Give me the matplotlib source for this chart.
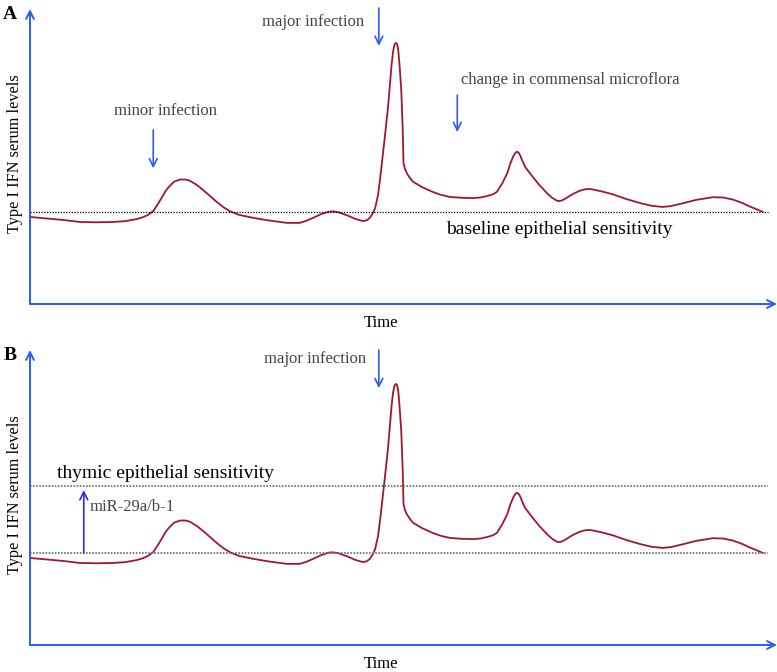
import matplotlib.pyplot as plt

plt.rcParams['font.family'] = ['Liberation Serif', 'DejaVu Serif']

# IFN level curve (time 0-100, level 0-100)
time = [0, 2.2, 4.4, 6.7, 8.9, 11.1, 12.8, 14.3, 15.1, 15.8, 16.5, 17.1, 17.7, 18.2,
        18.7, 19.3, 20.1, 20.8, 21.4, 22.3, 23.2, 24.1, 25.0, 25.9, 26.8, 28.0, 29.9,
        32.0, 34.4, 36.1, 37.0, 37.9, 39.0, 40.0, 40.6, 41.3, 42.5, 43.6, 44.6, 45.1,
        45.5, 45.9, 46.2, 46.6, 46.9, 47.5, 47.9, 48.2, 48.4, 48.6, 48.8, 49.0, 49.15,
        49.3, 49.5, 49.7, 49.9, 50.0, 50.2, 50.5, 50.9, 51.3, 52.5, 53.9, 55.0, 56.2,
        57.8, 59.3, 60.3, 61.2, 62.0, 62.5, 63.2, 63.9, 64.3, 64.7, 65.0, 65.2, 65.4,
        65.6, 65.9, 66.3, 67.3, 68.2, 69.2, 69.9, 70.4, 70.7, 71.1, 71.6, 72.6, 73.6,
        74.3, 75.0, 76.5, 78.0, 79.8, 81.7, 83.2, 84.7, 85.8, 87.0, 89.2, 91.4, 92.8,
        94.1, 95.3, 96.4, 97.3, 98.1]
level = [29.5, 29.0, 28.5, 27.8, 27.7, 27.8, 28.1, 28.8, 29.4, 30.2, 31.5, 33.8, 36.3, 38.5,
         40.0, 41.5, 42.2, 42.2, 41.8, 40.4, 38.6, 36.6, 34.6, 32.8, 31.4, 30.2, 29.2,
         28.3, 27.5, 27.5, 28.2, 29.2, 30.5, 31.3, 31.4, 31.1, 30.0, 28.8, 28.1, 28.4,
         29.2, 30.8, 32.5, 37.0, 43.1, 56.6, 66.0, 74.9, 81.0, 85.5, 88.0, 88.5, 88.0,
         86.1, 80.0, 72.5, 59.0, 47.8, 45.7, 44.1, 42.6, 41.4, 39.6, 38.0, 37.0, 36.3,
         36.0, 35.9, 36.1, 36.6, 37.2, 38.0, 40.8, 44.4, 47.6, 50.1, 51.3, 51.6, 51.3,
         50.5, 48.6, 46.4, 43.1, 40.3, 37.6, 36.0, 35.2, 34.9, 35.0, 35.6, 37.2, 38.4,
         38.9, 39.0, 38.2, 37.2, 35.6, 34.2, 33.3, 32.9, 33.2, 33.9, 35.3, 36.2, 36.1,
         35.4, 34.3, 33.0, 32.1, 31.2]

baseline = 31.2
thymic = 54.0

AXIS_BLUE = '#2a5cf5'
CURVE = '#9c1a2c'
GREY = '#444444'

fig = plt.figure(figsize=(7.77, 6.72), dpi=100)


def draw_panel(ax, letter):
    ax.set_xlim(0, 100)
    ax.set_ylim(0, 100)
    ax.axis('off')
    # axes drawn as open arrows
    ax.annotate('', xy=(100, 0), xytext=(0, 0), annotation_clip=False,
                arrowprops=dict(arrowstyle='->', color=AXIS_BLUE, lw=1.4,
                                mutation_scale=14, shrinkA=0, shrinkB=0))
    ax.annotate('', xy=(0, 100), xytext=(0, 0), annotation_clip=False,
                arrowprops=dict(arrowstyle='->', color=AXIS_BLUE, lw=1.4,
                                mutation_scale=14, shrinkA=0, shrinkB=0))
    ax.plot(time, level, color=CURVE, lw=1.3, solid_joinstyle='round', clip_on=False)
    ax.text(-2.0, 51, 'Type I IFN serum levels', rotation=90, ha='center',
            va='center', fontsize=11.7)
    ax.text(47, -6.4, 'Time', ha='center', va='center', fontsize=12)
    ax.text(-2.7, 98, letter, ha='center', va='center', fontsize=14,
            fontweight='bold')


def down_arrow(ax, x, y0, y1, color=AXIS_BLUE):
    ax.annotate('', xy=(x, y1), xytext=(x, y0), annotation_clip=False,
                arrowprops=dict(arrowstyle='->', color=color, lw=1.2,
                                mutation_scale=14, shrinkA=0, shrinkB=0))


# --- Panel A ---
axA = fig.add_axes([30 / 777, 368 / 672, 747 / 777, 295 / 672])
draw_panel(axA, 'A')
axA.plot([0, 98.8], [baseline, baseline], color='black', lw=0.9, ls=(0, (1, 1.2)))
axA.text(18.1, 65.4, 'minor infection', ha='center', va='center', fontsize=12, color=GREY)
down_arrow(axA, 16.5, 59, 46)
axA.text(37.9, 95.6, 'major infection', ha='center', va='center', fontsize=12, color=GREY)
down_arrow(axA, 46.7, 100.3, 87.5)
axA.text(72.3, 75.9, 'change in commensal microflora', ha='center', va='center',
         fontsize=12, color=GREY)
down_arrow(axA, 57.2, 70.8, 58.3)
axA.text(70.8, 25.1, 'baseline epithelial sensitivity', ha='center', va='center',
         fontsize=14, color='black')

# --- Panel B ---
axB = fig.add_axes([30 / 777, 27 / 672, 747 / 777, 295 / 672])
draw_panel(axB, 'B')
axB.plot([0, 98.8], [baseline, baseline], color='#777777', lw=1.4, ls=(0, (0.8, 0.8)))
axB.plot([0, 98.8], [thymic, thymic], color='#777777', lw=1.4, ls=(0, (0.8, 0.8)))
axB.text(18.1, 58.3, 'thymic epithelial sensitivity', ha='center', va='center',
         fontsize=14, color='black')
axB.text(8.0, 46.8, 'miR-29a/b-1', ha='left', va='center', fontsize=12, color=GREY)
down_arrow(axB, 7.2, baseline, 52.5, color='#2a2ae8')
axB.text(38.1, 97, 'major infection', ha='center', va='center', fontsize=12, color=GREY)
down_arrow(axB, 46.7, 100, 87.1)

fig.savefig('out.png', dpi=100)
